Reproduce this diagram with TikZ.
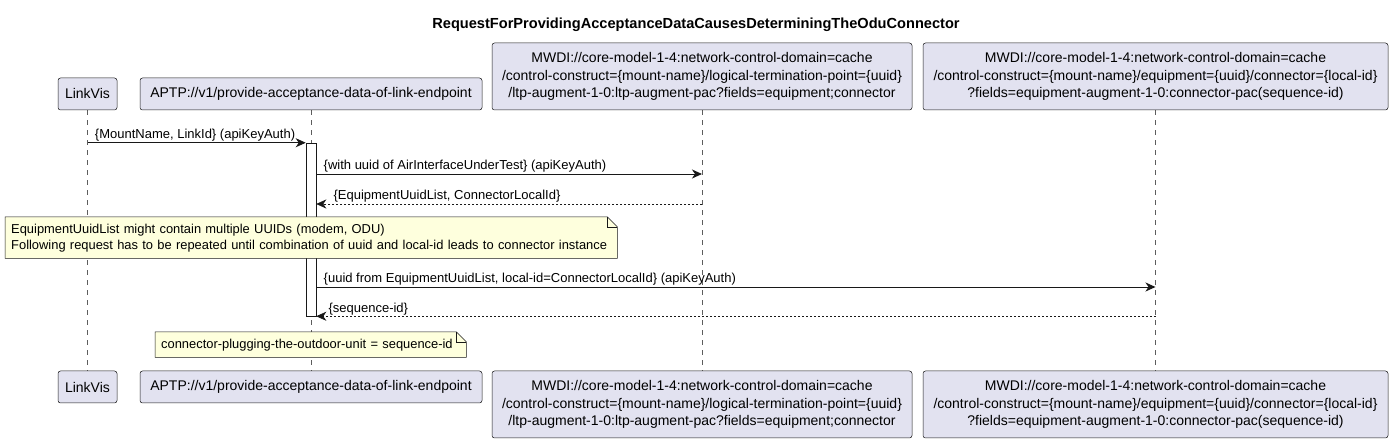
\documentclass[tikz,border=0pt]{standalone}
\usepackage{fontspec}
\setmainfont{Liberation Sans}
\usetikzlibrary{arrows.meta,positioning,backgrounds}
\definecolor{partfill}{HTML}{E2E2F0}
\definecolor{partline}{HTML}{181818}
\definecolor{notefill}{HTML}{FEFFDD}
\tikzset{
  part/.style={draw=partline,line width=.5pt,fill=partfill,rounded corners=2.5pt,inner sep=0pt,align=center,font=\fontsize{14}{17.3}\selectfont},
  life/.style={draw=partline!70,line width=.5pt,dash pattern=on 5pt off 5pt},
  msg/.style={draw=partline,line width=.9pt,-{Stealth[length=10pt,width=9pt,inset=3pt]}},
  ret/.style={msg,line width=.6pt,dash pattern=on 2pt off 2pt},
  lbl/.style={anchor=base west,inner sep=0pt,font=\fontsize{13}{15}\selectfont},
  notetxt/.style={inner xsep=6pt,inner ysep=0pt,align=left,font=\fontsize{12.9}{16}\selectfont},
  notebox/.style={draw=partline,line width=.5pt,fill=notefill}
}
\begin{document}
\begin{tikzpicture}[x=1pt,y=-1pt]
\useasboundingbox (0,0) rectangle (1393,443);
\node[font=\bfseries\fontsize{14.6}{17}\selectfont] (title) at (696,25) {RequestForProvidingAcceptanceDataCausesDeterminingTheOduConnector};
% participants, top row
\node[part,minimum width=59pt,minimum height=32pt] (lvTop) at (87.5,94) {LinkVis};
\node[part,minimum width=342pt,minimum height=32pt] (apTop) at (311,94) {APTP://v1/provide-acceptance-data-of-link-endpoint};
\node[part,minimum width=420pt,minimum height=67pt] (mwaTop) at (702,76.5) {MWDI://core-model-1-4:network-control-domain=cache\\/control-construct=\{mount-name\}/logical-termination-point=\{uuid\}\\/ltp-augment-1-0:ltp-augment-pac?fields=equipment;connector};
\node[part,minimum width=465pt,minimum height=67pt] (mwbTop) at (1155.5,76.5) {MWDI://core-model-1-4:network-control-domain=cache\\/control-construct=\{mount-name\}/equipment=\{uuid\}/connector=\{local-id\}\\?fields=equipment-augment-1-0:connector-pac(sequence-id)};
% participants, bottom row
\node[part,minimum width=59pt,minimum height=32pt] (lvBot) at (87.5,387) {LinkVis};
\node[part,minimum width=342pt,minimum height=32pt] (apBot) at (311,387) {APTP://v1/provide-acceptance-data-of-link-endpoint};
\node[part,minimum width=420pt,minimum height=67pt] (mwaBot) at (702,404.5) {MWDI://core-model-1-4:network-control-domain=cache\\/control-construct=\{mount-name\}/logical-termination-point=\{uuid\}\\/ltp-augment-1-0:ltp-augment-pac?fields=equipment;connector};
\node[part,minimum width=465pt,minimum height=67pt] (mwbBot) at (1155.5,404.5) {MWDI://core-model-1-4:network-control-domain=cache\\/control-construct=\{mount-name\}/equipment=\{uuid\}/connector=\{local-id\}\\?fields=equipment-augment-1-0:connector-pac(sequence-id)};
% notes
\node[notetxt,text width=600pt,minimum height=41pt,anchor=north west] (note1) at (5,217) {EquipmentUuidList might contain multiple UUIDs (modem, ODU)\\Following request has to be repeated until combination of uuid and local-id leads to connector instance};
\node[notetxt,text width=299pt,minimum height=25pt,anchor=north west] (note2) at (155,332) {connector-plugging-the-outdoor-unit = sequence-id};
\coordinate (row2) at (0,174);
\coordinate (row3) at (0,204);
\coordinate (row4) at (0,287);
\begin{scope}[on background layer]
\draw[life] (lvTop.south) -- (lvBot.north);
\draw[life] (apTop.south) -- (apBot.north);
\draw[life] (mwaTop.south) -- (mwaBot.north);
\draw[life] (mwbTop.south) -- (mwbBot.north);
\node[draw=partline,line width=.5pt,fill=white,minimum width=10pt,minimum height=173pt,inner sep=0pt] (act) at (apTop.south |- 0,229.5) {};
\draw[notebox] (note1.south west) -- (note1.north west) -- ([xshift=-10pt]note1.north east) -- ([yshift=-10pt]note1.north east) -- (note1.south east) -- cycle;
\draw[notebox,fill=none] ([xshift=-10pt]note1.north east) -- ([xshift=-10pt,yshift=-10pt]note1.north east) -- ([yshift=-10pt]note1.north east);
\draw[notebox] (note2.south west) -- (note2.north west) -- ([xshift=-10pt]note2.north east) -- ([yshift=-10pt]note2.north east) -- (note2.south east) -- cycle;
\draw[notebox,fill=none] ([xshift=-10pt]note2.north east) -- ([xshift=-10pt,yshift=-10pt]note2.north east) -- ([yshift=-10pt]note2.north east);
\end{scope}
% messages
\draw[msg] (lvTop.south |- act.north) -- (act.north west) node[lbl,pos=0,xshift=7pt,yshift=4pt] {\{MountName, LinkId\} (apiKeyAuth)};
\draw[msg] (act.east |- row2) -- (mwaTop.south |- row2) node[lbl,pos=0,xshift=7pt,yshift=4pt] {\{with uuid of AirInterfaceUnderTest\} (apiKeyAuth)};
\draw[ret] (mwaTop.south |- row3) -- (act.east |- row3) node[lbl,pos=1,xshift=17pt,yshift=4pt] {\{EquipmentUuidList, ConnectorLocalId\}};
\draw[msg] (act.east |- row4) -- (mwbTop.south |- row4) node[lbl,pos=0,xshift=7pt,yshift=4pt] {\{uuid from EquipmentUuidList, local-id=ConnectorLocalId\} (apiKeyAuth)};
\draw[ret] (mwbTop.south |- act.south) -- (act.south east) node[lbl,pos=1,xshift=12pt,yshift=4pt] {\{sequence-id\}};
\end{tikzpicture}
\end{document}
